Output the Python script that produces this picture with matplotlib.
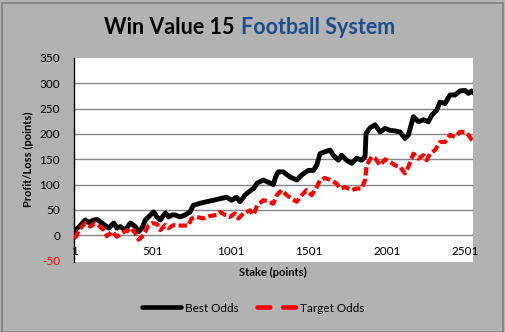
import matplotlib
matplotlib.use("Agg")
import matplotlib.pyplot as plt
from matplotlib.lines import Line2D

plt.rcParams['font.family'] = ['Lato', 'DejaVu Sans']

# Cumulative profit/loss (points) against stake count
best_stake = [1, 9, 31, 73, 95, 127, 148, 180, 223, 255, 276, 297, 329, 361, 393, 414,
              436, 457, 510, 532, 553, 585, 606, 628, 647, 679, 711, 743, 764, 807,
              849, 892, 934, 977, 1009, 1041, 1062, 1094, 1116, 1148, 1173, 1212,
              1254, 1275, 1290, 1307, 1339, 1382, 1425, 1457, 1499, 1531, 1553, 1574,
              1606, 1638, 1659, 1691, 1712, 1744, 1776, 1808, 1840, 1862, 1868, 1894,
              1926, 1958, 1990, 2022, 2053, 2085, 2117, 2139, 2171, 2203, 2235, 2267,
              2288, 2320, 2341, 2373, 2405, 2437, 2469, 2501, 2522, 2543, 2550]
best_pl = [2, 10, 16, 30, 25, 30, 31, 24, 14, 24, 14, 17, 10, 24, 17, 7,
           14, 30, 46, 36, 30, 44, 36, 40, 40, 36, 40, 46, 59, 63,
           66, 69, 72, 75, 69, 75, 66, 79, 85, 92, 103, 109,
           103, 100, 115, 125, 125, 115, 109, 119, 128, 128, 138, 161,
           165, 168, 158, 148, 158, 148, 142, 152, 148, 155, 201, 212,
           218, 204, 211, 207, 206, 204, 191, 198, 234, 224, 228, 224,
           237, 247, 263, 260, 277, 277, 285, 286, 280, 285, 282]

target_stake = [1, 14, 31, 73, 105, 137, 159, 191, 212, 244, 276, 308, 340, 361, 383,
                414, 446, 478, 500, 532, 553, 585, 606, 638, 679, 732, 753, 785, 828,
                871, 913, 934, 966, 998, 1030, 1052, 1084, 1126, 1148, 1173, 1212,
                1243, 1275, 1297, 1329, 1361, 1393, 1425, 1457, 1488, 1520, 1553,
                1574, 1606, 1638, 1680, 1702, 1734, 1776, 1808, 1840, 1862, 1872,
                1904, 1926, 1958, 1990, 2022, 2053, 2085, 2117, 2139, 2171, 2203,
                2235, 2256, 2277, 2309, 2341, 2373, 2405, 2437, 2469, 2501, 2522,
                2543, 2550]
target_pl = [-6, -3, 10, 24, 17, 24, 19, 10, -2, 7, -3, 4, 10, 4, 10,
             -9, 0, 20, 24, 22, 10, 20, 14, 20, 19, 19, 33, 36, 33,
             38, 40, 46, 40, 36, 43, 33, 43, 49, 40, 59, 69,
             67, 62, 79, 89, 79, 72, 66, 79, 89, 79, 95,
             109, 113, 109, 102, 92, 95, 89, 92, 92, 109, 138,
             155, 152, 138, 150, 145, 138, 135, 122, 135, 161, 151,
             158, 148, 161, 168, 184, 184, 198, 194, 204, 204, 198,
             189, 187]

x_ticks = [1, 501, 1001, 1501, 2001, 2501]
y_ticks = [-50, 0, 50, 100, 150, 200, 250, 300, 350]
grid_levels = [0, 50, 100, 150, 200, 250, 300]

W, H = 505, 332
bg = '#B2B2B2'
fig = plt.figure(figsize=(W / 100, H / 100), dpi=100, facecolor=bg)

# outer frame
fig.patches.append(plt.Rectangle((2 / W, 0), (W - 4) / W, (H - 3) / H,
                                 transform=fig.transFigure, fill=False,
                                 edgecolor='#7F7F7F', linewidth=1.2))

ax = fig.add_axes([74 / W, 1 - 262 / H, (473 - 74) / W, (262 - 58) / H])
ax.set_facecolor('white')
ax.set_xlim(1, 2552)
ax.set_ylim(-53, 350)

for lv in grid_levels:
    ax.axhline(lv, color='#868686', linewidth=1.0, zorder=1)

ax.plot(best_stake, best_pl, color='black', linewidth=3.5,
        solid_capstyle='round', solid_joinstyle='round', zorder=3)
ax.plot(target_stake, target_pl, color='#FF0000', linewidth=3.0,
        dashes=(2.0, 0.8), dash_capstyle='butt', dash_joinstyle='round', zorder=3)

for side in ['top', 'right', 'bottom']:
    ax.spines[side].set_visible(False)
ax.spines['left'].set_color('black')
ax.spines['left'].set_linewidth(1.0)

ax.set_yticks(y_ticks)
ax.set_yticklabels([str(v) for v in y_ticks])
for lab, v in zip(ax.get_yticklabels(), y_ticks):
    lab.set_color('#FF0000' if v < 0 else 'black')
ax.tick_params(axis='y', length=0, pad=10, labelsize=8.5)

ax.set_xticks(x_ticks)
ax.set_xticklabels([str(v) for v in x_ticks])
ax.tick_params(axis='x', length=0, pad=-11.5, labelsize=8.5)

fig.text(28 / W, 1 - 159 / H, 'Profit/Loss (points)', rotation=90,
         ha='center', va='center', fontsize=8, fontweight='bold')
fig.text(273 / W, 1 - 272 / H, 'Stake (points)', ha='center', va='center',
         fontsize=8, fontweight='bold')

fig.text(235 / W, 1 - 28 / H, 'Win Value 15', ha='right', va='center',
         fontsize=15.5, fontweight='bold', color='black')
fig.text(241 / W, 1 - 28 / H, 'Football System', ha='left', va='center',
         fontsize=15.5, fontweight='bold', color='#1F4E8C')

handles = [Line2D([], [], color='black', linewidth=3.3, solid_capstyle='round'),
           Line2D([], [], color='#FF0000', linewidth=3.3, dashes=(2.8, 2.8),
                  dash_capstyle='round')]
fig.legend(handles, ['Best Odds', 'Target Odds'], loc='center',
           bbox_to_anchor=(253 / W, 1 - 308 / H), ncol=2, frameon=False,
           fontsize=8.5, handlelength=3.3, handletextpad=0.3, columnspacing=1.6)

fig.savefig('out.png', dpi=100, facecolor=bg)
